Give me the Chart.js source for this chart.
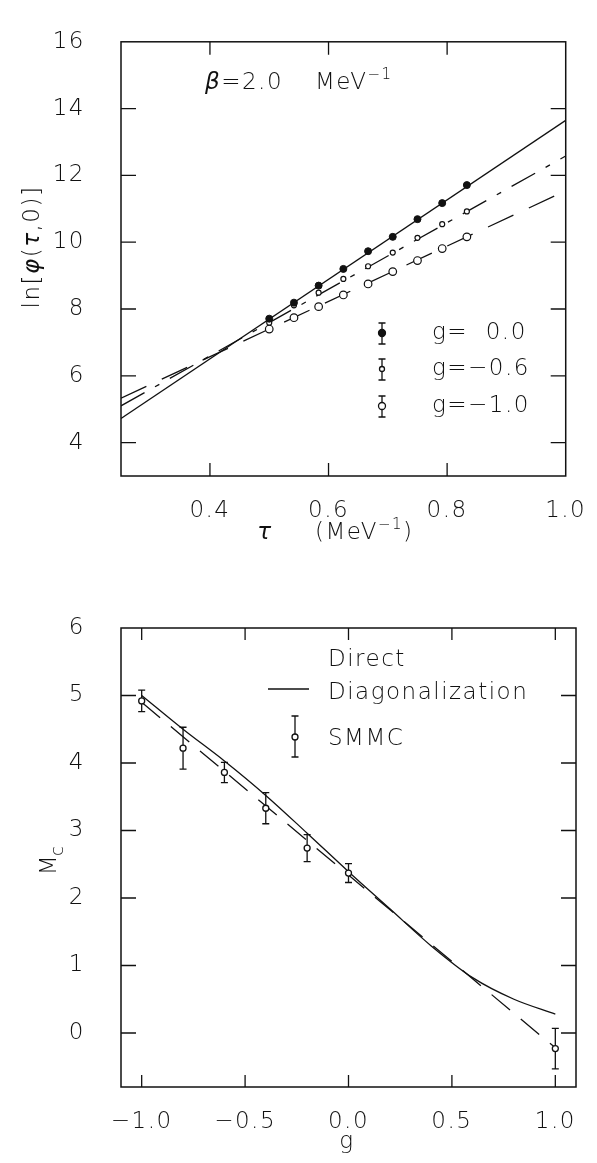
<!DOCTYPE html>
<html>
<head>
<meta charset="utf-8">
<script src="https://cdn.jsdelivr.net/npm/chart.js@4.4.0/dist/chart.umd.min.js"></script>
<style>
    html, body { margin: 0; padding: 0; background: #fff; }
    body { width: 597px; height: 1163px; position: relative; overflow: hidden; }
    canvas { position: absolute; left: 0; }
    #topChart { top: 0; }
    #bottomChart { top: 580px; }
</style>
</head>
<body>
<canvas id="topChart" width="597" height="580"></canvas>
<canvas id="bottomChart" width="597" height="583"></canvas>
<script>
// top panel: ln[phi(tau,0)] at beta = 2.0 MeV^-1
const tauPts = [0.5, 0.5417, 0.5833, 0.625, 0.6667, 0.7083, 0.75, 0.7917, 0.8333];
const lnPhiG00 = [7.71, 8.19, 8.70, 9.20, 9.73, 10.16, 10.69, 11.17, 11.71];
const lnPhiG06 = [7.59, 8.11, 8.49, 8.90, 9.28, 9.69, 10.13, 10.54, 10.92];
const lnPhiG10 = [7.40, 7.74, 8.07, 8.42, 8.75, 9.12, 9.45, 9.81, 10.16];
const tauFit = [0.25, 1.0];
const fitG00 = [4.72, 13.65];
const fitG06 = [5.10, 12.58];
const fitG10 = [5.33, 11.54];

// bottom panel: M_c vs g
const gSmmc = [-1.0, -0.8, -0.6, -0.4, -0.2, 0.0, 1.0];
const mcSmmc = [4.92, 4.22, 3.86, 3.33, 2.74, 2.37, -0.23];
const mcErr = [0.16, 0.31, 0.15, 0.23, 0.20, 0.14, 0.30];
const gDiag = [-1.0, -0.8, -0.6, -0.4, -0.2, 0.0, 0.2, 0.4, 0.6, 0.8, 1.0];
const mcDiag = [5.00, 4.50, 4.03, 3.52, 2.96, 2.39, 1.84, 1.29, 0.82, 0.50, 0.28];
const gFit = [-1.0, 1.0];
const mcFit = [4.90, -0.22];

const INK = '#111';
const FAMILY = "'DejaVu Sans', sans-serif";
const WEIGHT = 200;
const SIZE = 23;
const SPACING = '1.5px';

function pts(xs, ys) {
    return xs.map(function (x, i) { return {x: x, y: ys[i]}; });
}

function fmt1(v) {
    return (v < 0 ? '\u2212' : '') + Math.abs(v).toFixed(1);
}

function font(size, italic) {
    return (italic ? 'italic ' : '') + WEIGHT + ' ' + size + 'px ' + FAMILY;
}

// draw a row of text pieces, left edge (or centre) at x, middle at y
function drawRuns(ctx, runs, x, y, center) {
    ctx.save();
    ctx.letterSpacing = SPACING;
    ctx.textBaseline = 'middle';
    ctx.textAlign = 'left';
    let total = 0;
    for (const r of runs) {
        ctx.font = font(r.size || SIZE, r.italic);
        total += ctx.measureText(r.t).width + (r.gap || 0);
    }
    let cx = center ? x - total / 2 : x;
    for (const r of runs) {
        ctx.font = font(r.size || SIZE, r.italic);
        ctx.fillStyle = INK;
        ctx.fillText(r.t, cx, y + (r.dy || 0));
        cx += ctx.measureText(r.t).width + (r.gap || 0);
    }
    ctx.restore();
}

function errorSymbol(ctx, x, yTop, yBot, cap) {
    ctx.beginPath();
    ctx.moveTo(x, yTop); ctx.lineTo(x, yBot);
    ctx.moveTo(x - cap, yTop); ctx.lineTo(x + cap, yTop);
    ctx.moveTo(x - cap, yBot); ctx.lineTo(x + cap, yBot);
    ctx.stroke();
}

function dot(ctx, x, y, r, filled) {
    ctx.beginPath();
    ctx.arc(x, y, r, 0, Math.PI * 2);
    ctx.fillStyle = filled ? INK : '#fff';
    ctx.fill();
    ctx.stroke();
}

const frameTicks = {
    id: 'frameTicks',
    beforeDraw(chart) {
        chart.ctx.letterSpacing = SPACING;
    },
    afterDatasetsDraw(chart, args, opts) {
        const ctx = chart.ctx;
        const a = chart.chartArea;
        const x = chart.scales.x, y = chart.scales.y;
        ctx.save();
        ctx.strokeStyle = INK;
        ctx.lineWidth = 1.5;
        ctx.strokeRect(a.left, a.top, a.right - a.left, a.bottom - a.top);
        ctx.lineWidth = 1.3;
        ctx.beginPath();
        for (const t of x.ticks) {
            const px = x.getPixelForValue(t.value);
            if (px <= a.left + 1 || px >= a.right - 1) continue;
            ctx.moveTo(px, a.bottom); ctx.lineTo(px, a.bottom - opts.xLen);
            ctx.moveTo(px, a.top); ctx.lineTo(px, a.top + opts.xLen);
        }
        for (const t of y.ticks) {
            const py = y.getPixelForValue(t.value);
            if (py <= a.top + 1 || py >= a.bottom - 1) continue;
            ctx.moveTo(a.left, py); ctx.lineTo(a.left + opts.yLen, py);
            ctx.moveTo(a.right, py); ctx.lineTo(a.right - opts.yLen, py);
        }
        ctx.stroke();
        ctx.restore();
    }
};

function axisOpts(min, max, step, fitSize, isX, cb) {
    return {
        type: 'linear',
        min: min,
        max: max,
        grid: {display: false},
        border: {display: false},
        ticks: {
            stepSize: step,
            includeBounds: false,
            color: INK,
            padding: isX ? 13 : 28,
            font: {family: FAMILY, size: SIZE, weight: WEIGHT},
            callback: cb
        },
        afterFit: function (s) {
            if (isX) s.height = fitSize; else s.width = fitSize;
        }
    };
}

const topText = {
    id: 'topText',
    afterDraw(chart) {
        const ctx = chart.ctx;
        // y title
        ctx.save();
        ctx.translate(33, 247);
        ctx.rotate(-Math.PI / 2);
        drawRuns(ctx, [
            {t: 'ln['}, {t: '\u03c6', italic: true}, {t: '('},
            {t: '\u03c4', italic: true}, {t: ',0)]'}
        ], 0, 0, true);
        ctx.restore();
        // x title
        drawRuns(ctx, [{t: '\u03c4', italic: true}], 265, 533, true);
        drawRuns(ctx, [{t: '(MeV'}, {t: '\u22121', size: 15, dy: -8}, {t: ')'}], 315, 533, false);
        // beta label
        drawRuns(ctx, [{t: '\u03b2', italic: true}, {t: '=2.0'}], 205, 83, false);
        drawRuns(ctx, [{t: 'MeV'}, {t: '\u22121', size: 15, dy: -8}], 315, 83, false);
        // legend
        ctx.save();
        ctx.strokeStyle = INK;
        ctx.lineWidth = 1.3;
        errorSymbol(ctx, 382, 323, 344, 3.5);
        dot(ctx, 382, 333, 3.5, true);
        errorSymbol(ctx, 382, 359, 380, 3.5);
        dot(ctx, 382, 369, 2.5, false);
        errorSymbol(ctx, 382, 396, 417, 3.5);
        dot(ctx, 382, 406, 3.5, false);
        ctx.restore();
        drawRuns(ctx, [{t: 'g=  0.0'}], 432, 333, false);
        drawRuns(ctx, [{t: 'g=\u22120.6'}], 432, 369, false);
        drawRuns(ctx, [{t: 'g=\u22121.0'}], 432, 406, false);
    }
};

const bottomText = {
    id: 'bottomText',
    afterDatasetsDraw(chart) {
        // error bars on the SMMC points
        const ctx = chart.ctx;
        const x = chart.scales.x, y = chart.scales.y;
        ctx.save();
        ctx.strokeStyle = INK;
        ctx.lineWidth = 1.3;
        for (let i = 0; i < gSmmc.length; i++) {
            const px = x.getPixelForValue(gSmmc[i]);
            errorSymbol(ctx, px, y.getPixelForValue(mcSmmc[i] + mcErr[i]),
                y.getPixelForValue(mcSmmc[i] - mcErr[i]), 3.5);
            dot(ctx, px, y.getPixelForValue(mcSmmc[i]), 3, false);
        }
        ctx.restore();
    },
    afterDraw(chart) {
        const ctx = chart.ctx;
        const off = 580;
        ctx.save();
        ctx.translate(50, 860 - off);
        ctx.rotate(-Math.PI / 2);
        drawRuns(ctx, [{t: 'M', gap: -2}, {t: 'c', size: 18, dy: 8}], 0, 0, true);
        ctx.restore();
        drawRuns(ctx, [{t: 'g'}], 347, 1142 - off, true);
        // legend
        drawRuns(ctx, [{t: 'Direct'}], 328, 660 - off, false);
        drawRuns(ctx, [{t: 'Diagonalization'}], 328, 693 - off, false);
        drawRuns(ctx, [{t: 'SMMC'}], 328, 739 - off, false);
        ctx.save();
        ctx.strokeStyle = INK;
        ctx.lineWidth = 1.3;
        ctx.beginPath();
        ctx.moveTo(268, 689 - off); ctx.lineTo(309, 689 - off);
        ctx.stroke();
        errorSymbol(ctx, 295, 716 - off, 757 - off, 3.5);
        dot(ctx, 295, 737 - off, 3, false);
        ctx.restore();
    }
};

const topChart = new Chart(document.getElementById('topChart'), {
    type: 'scatter',
    data: {
        datasets: [
            {data: pts(tauPts, lnPhiG00), pointRadius: 3.5, pointBackgroundColor: INK, pointBorderColor: INK, showLine: false},
            {data: pts(tauPts, lnPhiG06), pointRadius: 2.5, pointBackgroundColor: '#fff', pointBorderColor: INK, pointBorderWidth: 1.2, showLine: false},
            {data: pts(tauPts, lnPhiG10), pointRadius: 3.8, pointBackgroundColor: '#fff', pointBorderColor: INK, pointBorderWidth: 1.2, showLine: false},
            {data: pts(tauFit, fitG00), showLine: true, pointRadius: 0, borderColor: INK, borderWidth: 1.3},
            {data: pts(tauFit, fitG06), showLine: true, pointRadius: 0, borderColor: INK, borderWidth: 1.3, borderDash: [27, 12, 5, 12]},
            {data: pts(tauFit, fitG10), showLine: true, pointRadius: 0, borderColor: INK, borderWidth: 1.3, borderDash: [28, 17]}
        ]
    },
    options: {
        responsive: false,
        animation: false,
        devicePixelRatio: 1,
        layout: {padding: {top: 18, right: 21, left: 0, bottom: 0}},
        plugins: {
            legend: {display: false},
            tooltip: {enabled: false},
            frameTicks: {xLen: 13, yLen: 15}
        },
        scales: {
            x: axisOpts(0.25, 1.0, 0.2, 104, true, fmt1),
            y: axisOpts(3, 16, 2, 121, false, function (v) { return String(v); })
        }
    },
    plugins: [frameTicks, topText]
});

const bottomChart = new Chart(document.getElementById('bottomChart'), {
    type: 'scatter',
    data: {
        datasets: [
            {data: pts(gDiag, mcDiag), showLine: true, pointRadius: 0, borderColor: INK, borderWidth: 1.3, cubicInterpolationMode: 'monotone'},
            {data: pts(gFit, mcFit), showLine: true, pointRadius: 0, borderColor: INK, borderWidth: 1.3, borderDash: [24, 14]}
        ]
    },
    options: {
        responsive: false,
        animation: false,
        devicePixelRatio: 1,
        layout: {padding: {top: 48, right: 21, left: 0, bottom: 0}},
        plugins: {
            legend: {display: false},
            tooltip: {enabled: false},
            frameTicks: {xLen: 12, yLen: 15}
        },
        scales: {
            x: axisOpts(-1.1, 1.1, 0.5, 76, true, fmt1),
            y: axisOpts(-0.8, 6, 1, 121, false, function (v) { return String(v); })
        }
    },
    plugins: [frameTicks, bottomText]
});
</script>
</body>
</html>
